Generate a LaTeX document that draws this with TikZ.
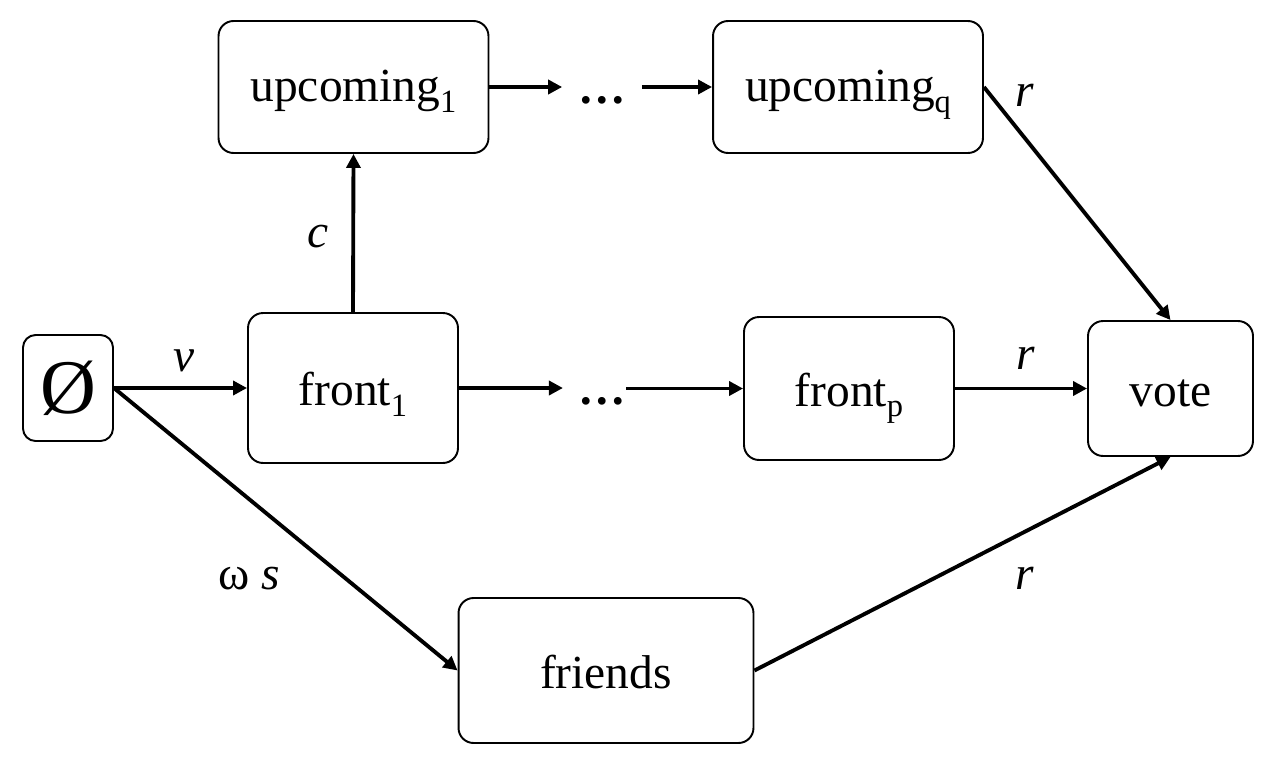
\documentclass[tikz,border=0pt]{standalone}
\usepackage{fontspec}
\setmainfont{Liberation Serif}
\usetikzlibrary{arrows.meta}
\newcommand{\mysub}[1]{\raisebox{-6pt}{\fontsize{18.5}{20}\selectfont #1}}
\begin{document}
\begin{tikzpicture}[x=0.02cm,y=-0.02cm,
  box/.style={draw, line width=1.1pt, rounded corners=0.3cm, inner sep=0pt,
    font=\fontsize{27}{32}\selectfont, text height=22pt, text depth=1.6pt},
  upbox/.style={box, text height=18.6pt, text depth=1.6pt},
  dotsnode/.style={inner sep=0pt, font=\fontsize{27}{32}\selectfont\bfseries},
  lab/.style={inner sep=0pt, anchor=base, font=\fontsize{27}{32}\selectfont},
  conn/.style={line width=2.2pt, -{Triangle[length=0.28cm,width=0.28cm]}}
]
\useasboundingbox (0,0) rectangle (1278,761);
\node[box, rounded corners=0.25cm, minimum width=1.8cm, minimum height=2.12cm, text height=, text depth=, font=\fontsize{44}{50}\selectfont] (empty) at (68,388) {Ø};
\node[box, minimum width=4.2cm, minimum height=3.0cm] (front1) at (353,388) {front\mysub{1}};
\node[upbox, minimum width=5.4cm, minimum height=2.64cm] (up1) at (353.5,87) {upcoming\mysub{1}};
\node[upbox, minimum width=5.4cm, minimum height=2.64cm] (upq) at (848,87) {upcoming\mysub{q}};
\node[box, minimum width=4.2cm, minimum height=2.86cm] (frontp) at (849,388.5) {front\mysub{p}};
\node[box, minimum width=3.3cm, minimum height=2.7cm] (vote) at (1170.5,388.5) {vote};
\node[box, minimum width=5.9cm, minimum height=2.9cm] (friends) at (606,670.5) {friends};
\node[dotsnode, minimum width=1.58cm] (d1) at (602,100) {…};
\node[dotsnode] (d2) at (594.5,401) {\hspace{0.3cm}…};
% connectors
\draw[conn] (empty.east) -- (front1.west);
\draw[conn] (front1.north) -- (up1.south);
\draw[conn] (up1.east) -- (up1.east -| d1.west);
\draw[conn] (d1.east |- upq.west) -- (upq.west);
\draw[conn] (front1.east) -- (front1.east -| d2.west);
\draw[conn] (d2.east |- frontp.west) -- (frontp.west);
\draw[conn] (frontp.east) -- (vote.west);
\draw[conn] (upq.east) -- (vote.north);
\draw[conn] (empty.east) -- (friends.west);
\draw[conn] (friends.east) -- (vote.south);
% labels
\node[lab] (lnu) at (184,371) {\itshape ν};
\node[lab] (lc) at (318,247) {\itshape c};
\node[lab] (lr1) at (1025,106) {\itshape r};
\node[lab] (lr2) at (1026,369) {\itshape r};
\node[lab] (lr3) at (1025,589) {\itshape r};
\node[lab] (lws) at (249,589) {ω \textit{s}};
\end{tikzpicture}
\end{document}
